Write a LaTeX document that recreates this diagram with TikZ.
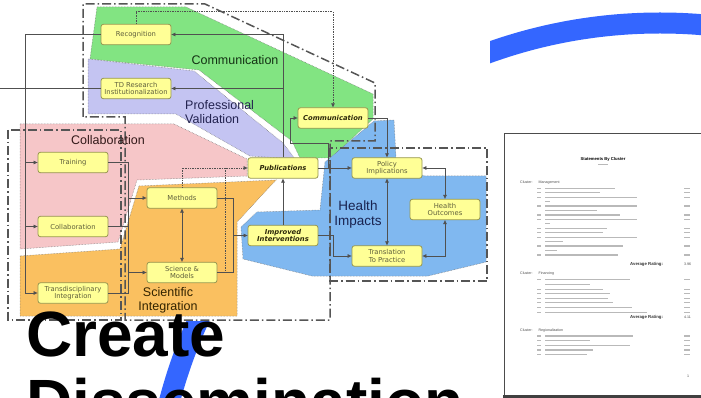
\documentclass[tikz,border=0pt]{standalone}
\usepackage{fontspec}
\setmainfont{Liberation Sans}
\newfontfamily\boxfont{DejaVu Sans}
\usetikzlibrary{arrows.meta}
\definecolor{cgreen}{RGB}{130,228,130}
\definecolor{cpurple}{RGB}{196,196,242}
\definecolor{cpink}{RGB}{246,198,200}
\definecolor{corange}{RGB}{250,192,96}
\definecolor{cblue}{RGB}{128,184,240}
\definecolor{boxfill}{RGB}{255,255,150}
\definecolor{boxdraw}{RGB}{150,150,80}
\definecolor{boxtext}{RGB}{95,95,60}
\definecolor{boldtext}{RGB}{45,40,10}
\definecolor{linecol}{RGB}{80,80,80}
\definecolor{framecol}{RGB}{85,85,85}
\definecolor{arcblue}{RGB}{52,102,255}
\definecolor{lgreen}{RGB}{20,50,20}
\definecolor{lpurple}{RGB}{35,35,80}
\definecolor{lpink}{RGB}{50,25,25}
\definecolor{lorange}{RGB}{50,35,0}
\definecolor{lblue}{RGB}{25,35,80}
\begin{document}
\begin{tikzpicture}[x=1pt,y=-1pt,>={Triangle[length=4pt,width=3.5pt]},
 box/.style={draw=boxdraw,fill=boxfill,rounded corners=2.5pt,line width=0.8pt,minimum width=70pt,minimum height=20.5pt,inner sep=0.5pt,align=center,text=boxtext,font=\boxfont\fontsize{6.8}{7.6}\selectfont},
 bbox/.style={box,text=boldtext,font=\boxfont\bfseries\itshape\fontsize{6.8}{7.6}\selectfont},
 conn/.style={draw=linecol,line width=0.7pt},
 dconn/.style={conn,densely dotted},
 frame/.style={draw=framecol,line width=1.5pt,dash pattern=on 9pt off 3pt on 1.5pt off 3pt},
 region/.style={draw=black!55,densely dotted,line width=0.5pt},
 rlabel/.style={inner sep=0,align=center,font=\fontsize{12.5}{14}\selectfont},
 pagebar/.style={fill=gray!55},
 pagetext/.style={inner sep=0,anchor=west,text=black!70,font=\fontsize{3.6}{4}\selectfont}]

\useasboundingbox (0,0) rectangle (701,398);
\fill[white] (0,0) rectangle (701,398);
% big blue circle, mostly hidden behind the diagram
\draw[arcblue,line width=21pt] (660,530) circle[radius=507pt];
\fill[white] (0,0) rectangle (490,321);

% coloured regions
\path[region,fill=cgreen] (97,7) -- (186,7) -- (373,94) -- (373,119) -- (331,158) -- (300,158) -- (292,141) -- (199,70) -- (90,59) -- cycle;
\path[region,fill=cpurple] (88,59) -- (194,71) -- (283,143) -- (295,159) -- (250,156) -- (176,114) -- (88,114) -- cycle;
\path[region,fill=cpink] (20,124) -- (174,124) -- (247,159) -- (247,176) -- (137,180) -- (118,242) -- (20,249) -- cycle;
\path[region,fill=corange] (20,256) -- (120,249) -- (139,186) -- (276,180) -- (237,222) -- (237,316) -- (20,316) -- cycle;
\path[region,fill=cblue] (374,121) -- (394,120) -- (396,158) -- (424,176) -- (486,176) -- (486,262) -- (428,276) -- (312,276) -- (243,259) -- (241,227) -- (257,212) -- (320,210) -- (325,162) -- cycle;

% cluster frames
\draw[frame] (83,117) -- (83,4) -- (205,4) -- (375,83) -- (375,141) -- (330,141) -- (330,320) -- (125,320) -- (125,117) -- cycle;
\draw[frame] (8,130) rectangle (121,320);
\draw[frame] (330,148) rectangle (487,281);

% region labels
\node[rlabel,text=lgreen] at (235,60) {Communication};
\node[rlabel,text=lpurple,align=left,anchor=north west] at (185,100) {Professional\\Validation};
\node[rlabel,text=lpink] at (108,140) {Collaboration};
\node[rlabel,text=lorange] at (168,300) {Scientific\\Integration};
\node[rlabel,text=lblue,font=\fontsize{13.5}{15}\selectfont] at (358,214.5) {Health\\Impacts};

% nodes
\node[box] (rec) at (136,34.5) {Recognition};
\node[box] (tdr) at (136,88.5) {TD Research\\Institutionalization};
\node[bbox] (com) at (333,118) {Communication};
\node[box] (trn) at (73,162.5) {Training};
\node[box] (col) at (73,226.5) {Collaboration};
\node[box] (tdi) at (73,293) {Transdisciplinary\\Integration};
\node[box] (met) at (182,198) {Methods};
\node[box] (sci) at (182,272.5) {Science \&\\Models};
\node[bbox] (pub) at (283,168) {Publications};
\node[bbox] (imp) at (283,235.5) {Improved\\Interventions};
\node[box] (pol) at (387,168) {Policy\\Implications};
\node[box] (hou) at (445,209.5) {Health\\Outcomes};
\node[box] (tra) at (387,256) {Translation\\To Practice};

% connectors
\coordinate (L0) at (25,293);
\draw[conn] (rec.west) -| (L0);
\draw[conn,->] (L0) -- (tdi.west);
\draw[conn,->] (L0 |- trn.west) -- (trn.west);
\draw[conn,->] (L0 |- col.west) -- (col.west);
\coordinate (E0) at (0,88.5);
\draw[conn] (tdr.west) -- (E0);

\draw[conn,->] (pub.north) |- (rec.east);
\draw[conn,->] (pub.north |- tdr.east) -- (tdr.east);
\draw[dconn,->] (rec.north) -- ++(0,-12) -| (com.north);
\draw[conn,->] (imp.north) -- (pub.south);
\draw[conn,->] (pub.east) -- (pol.west);
\coordinate (B1) at (328,168);
\coordinate (B2) at (290,143);
\draw[conn,->] (B1) |- (B2) |- (com.west);
\draw[conn,->] (com.east) -| (pol.north);
\draw[conn,<->] (pol.south) -- (tra.north);
\draw[conn,<->] (pol.east) -| (hou.north);
\draw[conn,<->] (tra.east) -| (hou.south);
\coordinate (B3) at (333,235.5);
\draw[conn,->] (imp.east) -- (B3) |- (tra.west);
\draw[conn,<->] (met.south) -- (sci.north);
\coordinate (R1) at (128,162.5);
\coordinate (R2) at (128,293);
\draw[conn] (trn.east) -- (R1) -- (R2) -- (tdi.east);
\draw[conn] (col.east) -- (col.east -| R1);
\draw[conn,->] (R1 |- met.west) -- (met.west);
\draw[conn,->] (R1 |- sci.west) -- (sci.west);
\coordinate (MS) at (233,272.5);
\draw[conn] (met.east) -| (MS) -- (sci.east);
\draw[conn,->] (MS |- imp.west) -- (imp.west);
\coordinate (D1) at (225,272.5);
\draw[dconn,->] (met.north) |- (pub.west);
\draw[dconn] (D1) -- (D1 |- pub.west);

% document page
\draw[draw=gray!60!black,line width=0.8pt,fill=white] (504,133) rectangle (715,396);
\fill[black!75] (503,395) rectangle (705,399);
\node[inner sep=0,font=\bfseries\fontsize{4.2}{5}\selectfont] at (603,159) {Statements By Cluster};
\fill[pagebar] (598,163.6) rectangle (608,164.6);
\node[pagetext] at (520,183) {Cluster:\hspace{6pt}Management};
\foreach \y/\e in {188.3/615,192.7/600,197.3/637,206/637,215/620,219.3/637,228.3/607,232.7/603,237.3/637,246/623,255/618}
 {\fill[pagebar] (537,\y-0.55) rectangle (541,\y+0.55);
  \fill[pagebar] (545,\y-0.55) rectangle (\e,\y+0.55);
  \fill[pagebar] (684,\y-0.55) rectangle (690,\y+0.55);}
\foreach \y/\e in {201.7/550,210.3/597,223.7/550,241.7/563,250.7/557}
 {\fill[pagebar] (545,\y-0.55) rectangle (\e,\y+0.55);}
\node[pagetext,text=black!80,font=\bfseries\fontsize{4.3}{5}\selectfont] at (630,264) {Average Rating:};
\node[pagetext] at (684,264) {3.96};
\node[pagetext] at (520,274) {Cluster:\hspace{6pt}Financing};
\foreach \y/\e in {279.3/630,289.3/603,293.3/610,298.3/608,302.7/613,307.3/632,312.7/647}
 {\fill[pagebar] (537,\y-0.55) rectangle (541,\y+0.55);
  \fill[pagebar] (545,\y-0.55) rectangle (\e,\y+0.55);
  \fill[pagebar] (684,\y-0.55) rectangle (690,\y+0.55);}
\fill[pagebar] (545,283.5) rectangle (590,284.6);
\node[pagetext,text=black!80,font=\bfseries\fontsize{4.3}{5}\selectfont] at (630,317) {Average Rating:};
\node[pagetext] at (684,317) {4.11};
\node[pagetext] at (520,331) {Cluster:\hspace{6pt}Regionalization};
\foreach \y/\e in {336/633,340.7/590,345.7/630,350/593,354.3/587}
 {\fill[pagebar] (537,\y-0.55) rectangle (541,\y+0.55);
  \fill[pagebar] (545,\y-0.55) rectangle (\e,\y+0.55);
  \fill[pagebar] (684,\y-0.55) rectangle (690,\y+0.55);}
\node[pagetext] at (687,376) {1};

% title text
\node[anchor=base west,inner sep=0,font=\bfseries\fontsize{64}{64}\selectfont] at (26,356) {Create};
\node[anchor=base west,inner sep=0,font=\bfseries\fontsize{64}{64}\selectfont] at (26,424) {Dissemination};
\end{tikzpicture}
\end{document}
